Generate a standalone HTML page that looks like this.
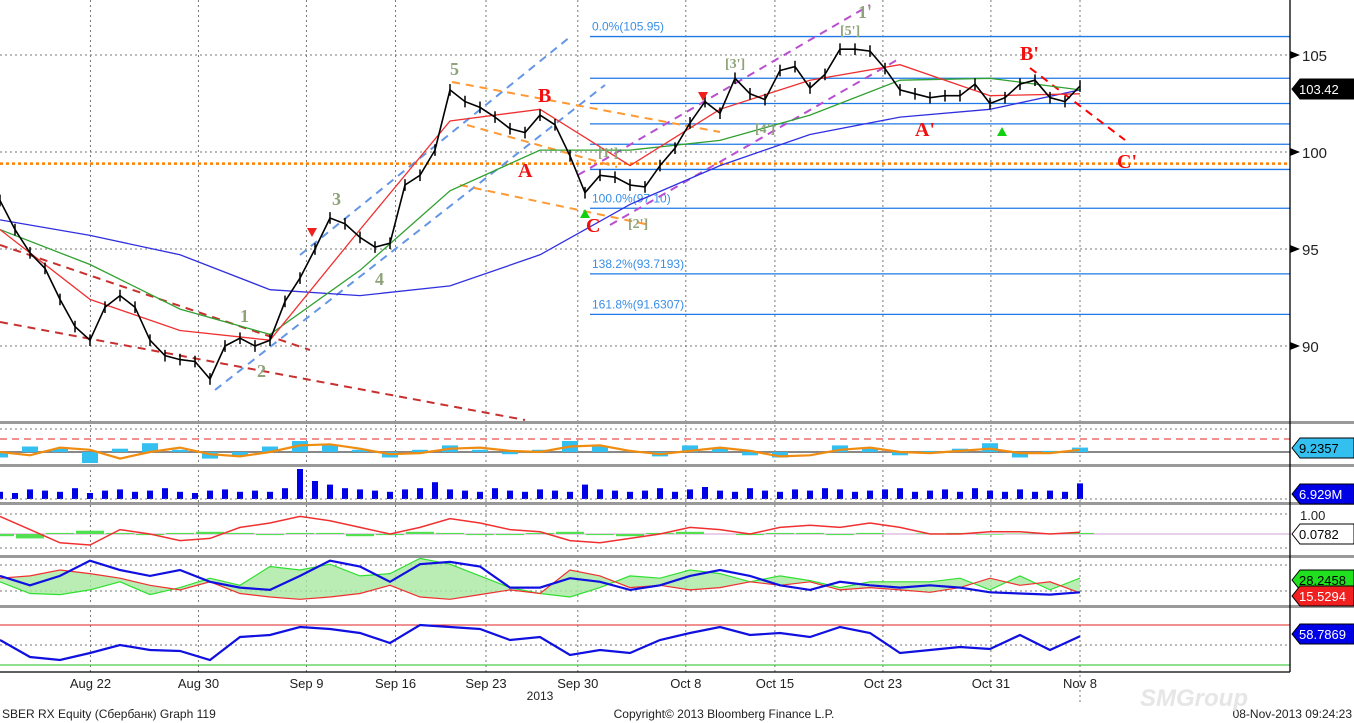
<!DOCTYPE html>
<html><head><meta charset="utf-8">
<style>
body{margin:0;background:#fff;overflow:hidden}
svg{display:block;font-family:"Liberation Sans",sans-serif}
</style></head>
<body>
<svg id="c" width="1354" height="723" viewBox="0 0 1354 723"></svg>
<script>
// ---- data ----
const priceCloses=[97.5,96,94.8,94,92.4,91,90.3,92,92.6,92,90.3,89.5,89.3,89.2,88.3,90,90.4,90,90.3,92.3,93.5,95,96.6,96.3,95.6,95.1,95.3,98.3,98.8,100.1,103.2,102.6,102.3,101.8,101.2,101,101.9,101.4,99.8,97.9,98.8,98.7,98.3,98.2,99.3,100.2,101.5,102.6,102,103.8,103,102.7,104.2,104.4,103.3,104,105.3,105.3,105.2,104.3,103.2,103,102.8,102.9,102.9,103.5,102.5,102.8,103.5,103.7,102.8,102.6,103.4];
const maSlow=[96.5,95.7,94.7,92.9,92.6,93.1,94.7,97.3,99.3,100.9,101.8,102.2,103.2];
const maMid=[96,94.2,91.9,90.6,93.9,98,100.1,100.1,100.6,101.9,103.7,103.8,103.2];
const maFast=[96,92.4,90.8,90.3,96,101.6,102.2,99.3,102.2,103.7,104.5,102.9,103];
const fibLevels=[105.95,103.8,102.5,101.45,100.4,99.1,97.1,93.7193,91.6307];
const priceTicks=[90,95,100,105];
const dateLabels=["Aug 22","Aug 30","Sep 9","Sep 16","Sep 23","Sep 30","Oct 8","Oct 15","Oct 23","Oct 31","Nov 8"];
const dateDays=[6.7,14.7,22.7,29.3,36,42.8,50.8,57.4,65.4,73.4,80];
const macdHist=[-0.5,0.5,0.3,-1,0.3,0.8,0.2,-0.6,-0.3,0.5,1.0,0.6,0.2,-0.5,0.2,0.6,0.2,-0.2,0.2,1.0,0.5,0,-0.4,0.6,0.4,-0.3,-0.5,0,0.6,0.3,-0.3,0.1,0.3,0.8,-0.5,0.1,0.4];
const macdSignal=[0,-0.3,0.4,0.2,-0.6,0,0.4,-0.2,-0.4,0,0.6,0.7,0.3,-0.2,-0.1,0.3,0.4,0.1,0,0.5,0.6,0.1,-0.2,0.1,0.4,0.1,-0.4,-0.3,0.2,0.4,0,-0.1,0.1,0.3,-0.1,-0.1,0.2];
const volumes=[6,5,8,7,6,9,5,7,8,6,7,9,6,5,7,8,6,7,6,9,25,15,12,9,8,7,6,8,9,14,8,7,6,9,7,6,8,7,6,12,8,7,6,7,9,6,8,10,7,6,9,7,6,8,7,9,8,6,7,8,9,6,7,8,6,9,7,6,8,6,7,6,13];
const oscRed=[0.8,0.2,-0.4,-0.5,0.2,0,-0.3,-0.2,0.3,0.5,0.8,0.6,0.3,0,0.3,0.7,0.5,0.2,0.1,-0.3,-0.4,-0.2,0,0.3,0.2,0,0.3,0.4,0.3,0.5,0.3,0,0,0.1,0.1,0,0.08];
const oscGreen=[-0.1,-0.2,0.05,0.15,0.05,-0.05,0.05,0.1,0.05,-0.05,0.05,0.05,-0.1,-0.05,0.1,0.05,-0.05,-0.05,0.05,0.1,-0.05,-0.1,0.05,0.1,0,-0.05,0.05,0.05,-0.05,0.05,0,0.03,0.05,-0.03,0.02,0.03,0.05];
const adxBlue=[30,22,30,43,35,30,35,25,20,18,30,43,38,25,40,42,38,20,20,28,25,18,22,30,35,30,22,18,25,22,20,22,20,16,15,14,16];
const diMinus=[28,30,35,32,28,22,18,25,15,12,10,12,15,22,12,10,14,18,15,35,30,20,22,18,20,25,22,25,18,20,18,16,20,28,22,25,15.5];
const diPlus=[25,15,14,18,25,14,20,28,22,38,35,40,30,32,45,40,30,20,15,12,20,30,28,35,32,25,30,26,20,25,25,25,28,18,30,18,28.2];
const rsiVals=[55,38,35,42,50,45,44,35,58,60,68,66,62,52,70,68,66,55,58,40,45,42,55,62,68,60,62,58,68,62,42,45,48,46,60,45,58.8];

// ---- helpers ----
const svg=document.getElementById('c');
const NS='http://www.w3.org/2000/svg';
function mk(tag,attrs,parent){const e=document.createElementNS(NS,tag);for(const k in attrs)e.setAttribute(k,attrs[k]);(parent||svg).appendChild(e);return e;}
const PLOT_R=1290;
const yPrice=v=>55+(105-v)*19.4;
const xDay=d=>d*13.5;
const xSeries=(i,n)=>i*1080/(n-1);
function poly(arr,xf,yf){return arr.map((v,i)=>xf(i,arr.length).toFixed(1)+','+yf(v).toFixed(1)).join(' ');}

dateDays.forEach((d,i)=>{
  const l=mk('line',{x1:xDay(d),x2:xDay(d),y1:0,y2:i==dateDays.length-1?705:672,stroke:'#777','stroke-dasharray':'2,3','stroke-width':1});
  
  
});
priceTicks.forEach(v=>{
  const l=mk('line',{x1:0,x2:PLOT_R,y1:yPrice(v),y2:yPrice(v),stroke:'#777','stroke-dasharray':'2,3'});
  
  
  const t=mk('text',{x:1302,y:yPrice(v)+6,'font-size':15,fill:'#222'});t.textContent=v;
  
  
  mk('path',{d:`M1290 ${yPrice(v)-4}L1300 ${yPrice(v)}L1290 ${yPrice(v)+4}Z`,fill:'#000'});
});
fibLevels.forEach(v=>{
  const l=mk('line',{x1:590,x2:PLOT_R,y1:yPrice(v),y2:yPrice(v),stroke:'#1e78e6','stroke-width':1.3});
  
  
});
const fibText=[['0.0%(105.95)',105.95],['100.0%(97.10)',97.1],['138.2%(93.7193)',93.7193],['161.8%(91.6307)',91.6307]];
fibText.forEach(f=>{const t=mk('text',{x:592,y:yPrice(f[1])-6,'font-size':12,fill:'#3a8ee6'});t.textContent=f[0];
  
  });
mk('line',{x1:0,x2:PLOT_R,y1:yPrice(99.4),y2:yPrice(99.4),stroke:'#ff8000','stroke-width':2.5,'stroke-dasharray':'3,3',});

const trend=[['#c83030',0,245,310,350],['#c83030',0,322,525,420],['#6496e6',215,390,605,85],['#6496e6',300,255,570,37],
 ['#ff9933',452,82,720,132],['#ff9933',467,125,617,167],['#ff9933',460,185,650,225],['#b94fd0',578,175,870,5],['#b94fd0',610,225,897,60],['#ff0000',1030,68,1125,140]];
trend.forEach(t=>{const l=mk('line',{x1:t[1],y1:t[2],x2:t[3],y2:t[4],stroke:t[0],'stroke-width':2,'stroke-dasharray':'8,6'});
  
  });

[[maSlow,'#3030e0','ma-slow'],[maMid,'#30a030','ma-mid'],[maFast,'#f03030','ma-fast']].forEach(m=>{
  const p=mk('polyline',{points:poly(m[0],xSeries,yPrice),fill:'none',stroke:m[1],'stroke-width':1.3});
  
  
});
priceCloses.forEach((v,i)=>{
  const x=xSeries(i,priceCloses.length);
  const b=mk('line',{x1:x,x2:x,y1:yPrice(v+0.3),y2:yPrice(v-0.3),stroke:'#000','stroke-width':1.5});
  
  
});
const pl=mk('polyline',{points:poly(priceCloses,xSeries,yPrice),fill:'none',stroke:'#000','stroke-width':1.6});



const waveG=[['5',450,75,18],['3',332,205,18],['4',375,285,18],['1',240,322,18],['2',257,377,18],['1\'',858,18,18],['[5\']',840,35,14],['[3\']',725,68,14],['[4\']',755,133,14],['[1\']',598,157,14],['[2\']',628,228,14]];
waveG.forEach(w=>{const t=mk('text',{x:w[1],y:w[2],'font-size':w[3],'font-weight':'bold','font-family':'Liberation Serif,serif',fill:'#8fa37a'});t.textContent=w[0];
  
  });
const waveR=[['B',538,102],['A',518,177],['C',586,232],['B\'',1020,60],['A\'',915,136],['C\'',1117,168]];
waveR.forEach(w=>{const t=mk('text',{x:w[1],y:w[2],'font-size':20,'font-weight':'bold','font-family':'Liberation Serif,serif',fill:'#f01010'});t.textContent=w[0];
  
  });
[[312,233,1],[703,97,1],[585,213,0],[1002,131,0]].forEach(a=>{
  const d=a[2]?`M${a[0]-5} ${a[1]-5}L${a[0]+5} ${a[1]-5}L${a[0]} ${a[1]+4}Z`:`M${a[0]-5} ${a[1]+5}L${a[0]+5} ${a[1]+5}L${a[0]} ${a[1]-4}Z`;
  const p=mk('path',{d:d,fill:a[2]?'#f02020':'#10d010'});
  
  
});

// MACD-like
const yM=v=>452-v*11;
mk('line',{x1:0,x2:PLOT_R,y1:439,y2:439,stroke:'#e02020','stroke-dasharray':'7,5'});
mk('line',{x1:0,x2:PLOT_R,y1:452,y2:452,stroke:'#888','stroke-width':2});
mk('line',{x1:0,x2:PLOT_R,y1:429,y2:429,stroke:'#777','stroke-dasharray':'2,3'});
macdHist.forEach((v,i)=>{const x=xSeries(i,macdHist.length);
  const r=mk('rect',{x:x-8,y:Math.min(yM(v),452),width:16,height:Math.abs(yM(v)-452),fill:'#33c0f0'});
  
  });
const ms=mk('polyline',{points:poly(macdSignal,xSeries,yM),fill:'none',stroke:'#f08c10','stroke-width':2.2});


// volume
volumes.forEach((v,i)=>{const x=xSeries(i,volumes.length);
  const r=mk('rect',{x:x-3,y:499-v*1.2,width:6,height:v*1.2,fill:'#0000e6'});
  
  });
mk('line',{x1:0,x2:PLOT_R,y1:499,y2:499,stroke:'#777','stroke-dasharray':'2,3'});
// oscillator
const yO=v=>534-v*22;
mk('line',{x1:0,x2:PLOT_R,y1:514,y2:514,stroke:'#777','stroke-dasharray':'2,3'});
mk('line',{x1:0,x2:PLOT_R,y1:548,y2:548,stroke:'#777','stroke-dasharray':'2,3'});
mk('line',{x1:0,x2:PLOT_R,y1:534,y2:534,stroke:'#d0a0d0'});
oscGreen.forEach((v,i)=>{const x=xSeries(i,oscGreen.length);
  const r=mk('rect',{x:x-14,y:Math.min(yO(v),534),width:28,height:Math.abs(yO(v)-534),fill:'#50e050'});
  
  });
const orl=mk('polyline',{points:poly(oscRed,xSeries,yO),fill:'none',stroke:'#f03030','stroke-width':1.5});


// DMI
const yD=v=>611-v*1.17;
mk('line',{x1:0,x2:PLOT_R,y1:565,y2:565,stroke:'#777','stroke-dasharray':'2,3'});
mk('line',{x1:0,x2:PLOT_R,y1:591,y2:591,stroke:'#777','stroke-dasharray':'2,3'});
const fillPts=diPlus.map((v,i)=>xSeries(i,diPlus.length).toFixed(1)+','+yD(v).toFixed(1)).join(' ')+' '+diMinus.map((v,i)=>xSeries(i,diMinus.length).toFixed(1)+','+yD(v).toFixed(1)).reverse().join(' ');
const fp=mk('polygon',{points:fillPts,fill:'#a8e8a0',stroke:'none',opacity:0.8});


const dp=mk('polyline',{points:poly(diPlus,xSeries,yD),fill:'none',stroke:'#30e030','stroke-width':1.2});


const dm=mk('polyline',{points:poly(diMinus,xSeries,yD),fill:'none',stroke:'#f03030','stroke-width':1.2});


const ad=mk('polyline',{points:poly(adxBlue,xSeries,yD),fill:'none',stroke:'#1010e0','stroke-width':2.2});


// RSI
const yR=v=>625+(70-v)*1.0;
mk('line',{x1:0,x2:PLOT_R,y1:yR(70),y2:yR(70),stroke:'#e02020'});
mk('line',{x1:0,x2:PLOT_R,y1:yR(50),y2:yR(50),stroke:'#777','stroke-dasharray':'2,3'});
mk('line',{x1:0,x2:PLOT_R,y1:yR(30),y2:yR(30),stroke:'#20c020'});
const rl=mk('polyline',{points:poly(rsiVals,xSeries,yR),fill:'none',stroke:'#1010e0','stroke-width':2.2});



[421,464,502,555,605].forEach(y=>{
  mk('rect',{x:0,y:y,width:1354,height:3,fill:'#999',});
});
mk('line',{x1:PLOT_R,x2:PLOT_R,y1:0,y2:672,stroke:'#000','stroke-width':1.3,});
mk('line',{x1:0,x2:PLOT_R,y1:672,y2:672,stroke:'#000','stroke-width':1.3,});
dateLabels.forEach((d,i)=>{
  const t=mk('text',{x:xDay(dateDays[i]),y:688,'font-size':13,fill:'#222','text-anchor':'middle'});t.textContent=d;
  
  
});
const tags=[[89,'103.42','#000','#fff'],[448,'9.2357','#33c0f0','#000'],[494,'6.929M','#0000e6','#fff'],[534,'0.0782','#fff','#000'],[580,'28.2458','#20e020','#000'],[596,'15.5294','#f02020','#fff'],[634,'58.7869','#0000e6','#fff']];
tags.forEach(g=>{
  const p=mk('path',{d:`M1292 ${g[0]}L1300 ${g[0]-10}L1354 ${g[0]-10}L1354 ${g[0]+10}L1300 ${g[0]+10}Z`,fill:g[2],stroke:'#000','stroke-width':1});
  
  
  const t=mk('text',{x:1299,y:g[0]+5,'font-size':13,fill:g[3]});t.textContent=g[1];
  
  
});
const one=mk('text',{x:1300,y:520,'font-size':13,fill:'#222'});one.textContent='1.00';


const f=[[540,700,'2013','middle',12],[2,718,'SBER RX Equity (Сбербанк) Graph 119','start',12],[724,718,'Copyright© 2013 Bloomberg Finance L.P.','middle',12],[1352,718,'08-Nov-2013 09:24:23','end',12]];
f.forEach(a=>{const t=mk('text',{x:a[0],y:a[1],'text-anchor':a[3],'font-size':a[4],fill:'#222'});t.textContent=a[2];
  
  });
const w=mk('text',{x:1140,y:706,'font-size':24,'font-weight':'bold','font-style':'italic',fill:'#e6e6e6'});w.textContent='SMGroup';


</script>
</body></html>
